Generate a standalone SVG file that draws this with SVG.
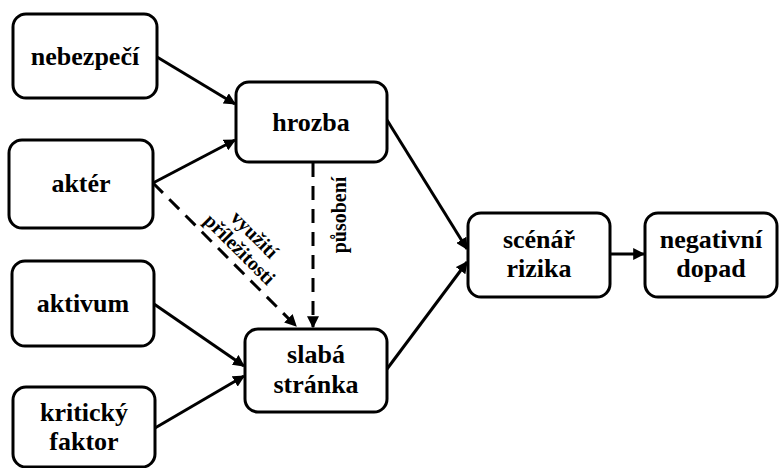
<svg xmlns="http://www.w3.org/2000/svg" width="779" height="468" viewBox="0 0 779 468">
  <style>
    .box { fill: #fff; stroke: #000; stroke-width: 3; }
    text { font-family: "Liberation Serif", "DejaVu Serif", serif; font-weight: 700; fill: #000; text-anchor: middle; }
    .lbl { font-size: 26px; }
    .sm { font-size: 20px; }
    .edge { fill: none; stroke: #000; stroke-width: 3; marker-end: url(#arr); }
    .dash { stroke-dasharray: 14 9; }
  </style>
  <defs>
    <marker id="arr" viewBox="0 0 10 10" refX="9" refY="5" markerWidth="4" markerHeight="4" orient="auto" markerUnits="strokeWidth">
      <path d="M0,0 L10,5 L0,10 Z" fill="#000"/>
    </marker>
  </defs>
  <rect width="779" height="468" fill="#fff"/>

  <g id="connectors">
    <line class="edge" x1="157" y1="57" x2="235" y2="104"/>
    <line class="edge" x1="153" y1="183" x2="235" y2="140"/>
    <line class="edge dash" x1="153" y1="183" x2="296" y2="326"/>
    <line class="edge dash" x1="313" y1="163" x2="313" y2="327"/>
    <line class="edge" x1="154" y1="304" x2="244" y2="366"/>
    <line class="edge" x1="155" y1="428" x2="244" y2="376"/>
    <line class="edge" x1="387" y1="120" x2="467" y2="249"/>
    <line class="edge" x1="387" y1="369" x2="467" y2="262"/>
    <line class="edge" x1="610" y1="254" x2="644" y2="254"/>
  </g>

  <g id="edge-labels">
    <g transform="translate(247,242) rotate(45)">
      <text class="sm" x="0" y="-4">využití</text>
      <text class="sm" x="0" y="17">příležitosti</text>
    </g>
    <text class="sm" transform="translate(346,215) rotate(-90)">působení</text>
  </g>

  <g id="nebezpeci">
    <rect class="box" x="13" y="14" width="144" height="84" rx="13"/>
    <text class="lbl" x="85" y="65">nebezpečí</text>
  </g>
  <g id="akter">
    <rect class="box" x="9" y="140" width="144" height="88" rx="13"/>
    <text class="lbl" x="81" y="192">aktér</text>
  </g>
  <g id="aktivum">
    <rect class="box" x="12" y="261" width="142" height="85" rx="13"/>
    <text class="lbl" x="83" y="312">aktivum</text>
  </g>
  <g id="kriticky-faktor">
    <rect class="box" x="13" y="387" width="142" height="80" rx="13"/>
    <text class="lbl" x="84" y="421">kritický</text>
    <text class="lbl" x="84" y="450">faktor</text>
  </g>
  <g id="hrozba">
    <rect class="box" x="236" y="82" width="151" height="80" rx="13"/>
    <text class="lbl" x="311" y="131">hrozba</text>
  </g>
  <g id="slaba-stranka">
    <rect class="box" x="245" y="329" width="142" height="83" rx="13"/>
    <text class="lbl" x="316" y="363">slabá</text>
    <text class="lbl" x="316" y="393">stránka</text>
  </g>
  <g id="scenar-rizika">
    <rect class="box" x="468" y="213" width="142" height="84" rx="13"/>
    <text class="lbl" x="539" y="248">scénář</text>
    <text class="lbl" x="539" y="277">rizika</text>
  </g>
  <g id="negativni-dopad">
    <rect class="box" x="645" y="213" width="132" height="84" rx="13"/>
    <text class="lbl" x="711" y="248">negativní</text>
    <text class="lbl" x="711" y="277">dopad</text>
  </g>
</svg>
